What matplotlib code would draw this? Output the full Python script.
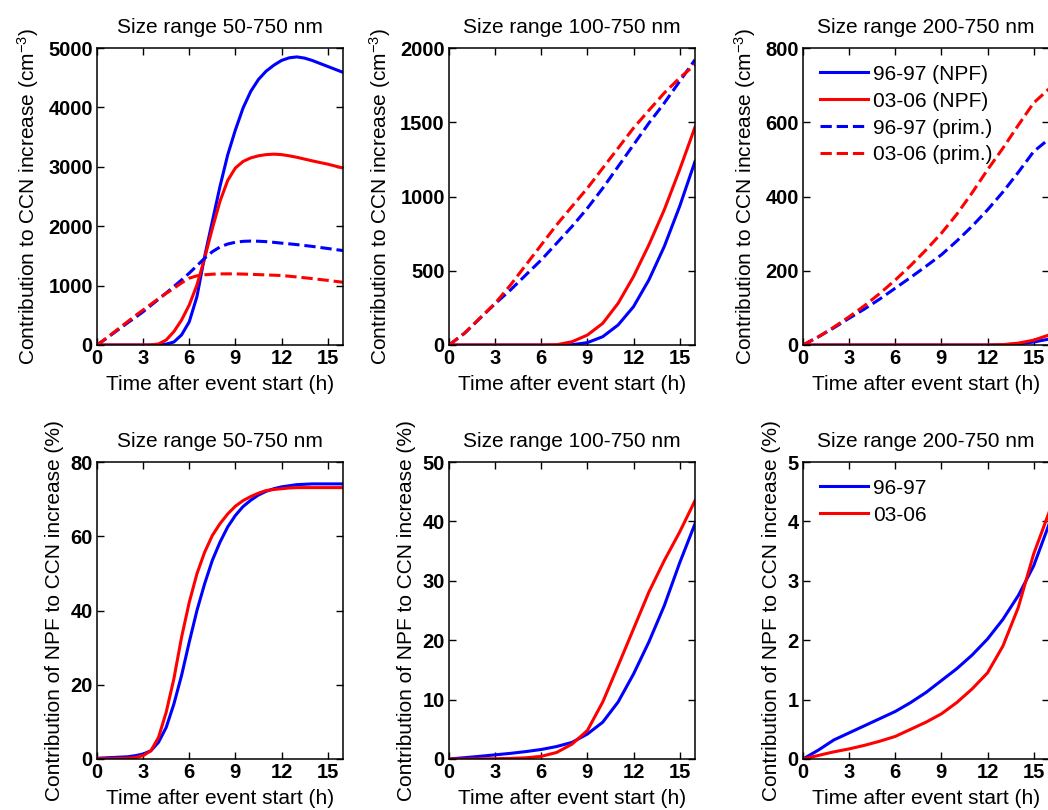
import matplotlib
matplotlib.use("Agg")
import matplotlib.pyplot as plt
import numpy as np

plt.rcParams['font.family'] = ['Liberation Sans', 'DejaVu Sans']
plt.rcParams['mathtext.default'] = 'regular'

hours = np.arange(0, 17)
hours_half = np.arange(0, 16.5, 0.5)

# CCN increase (cm^-3), size range 50-750 nm, half-hourly
ccn50_npf_9697 = [0, 0, 0, 0, 0, 0, 0, 0, 5, 15, 50, 170, 390, 815, 1490, 2080, 2670,
                  3200, 3620, 3990, 4270, 4470, 4610, 4710, 4790, 4835, 4850, 4830, 4790,
                  4740, 4690, 4640, 4590]
ccn50_npf_0306 = [0, 0, 0, 0, 0, 0, 0, 2, 17, 84, 225, 420, 674, 1010, 1460, 1960, 2420,
                  2770, 2980, 3090, 3150, 3185, 3205, 3213, 3205, 3185, 3160, 3130, 3100,
                  3072, 3045, 3012, 2980]
ccn50_prim_9697 = [0, 90, 185, 280, 375, 465, 560, 665, 770, 875, 985, 1095, 1210, 1335, 1460,
                   1570, 1650, 1700, 1730, 1745, 1750, 1747, 1740, 1728, 1715, 1703, 1690,
                   1675, 1660, 1642, 1625, 1607, 1590]
ccn50_prim_0306 = [0, 95, 195, 295, 395, 495, 590, 685, 780, 870, 955, 1045, 1125, 1165, 1182,
                   1192, 1197, 1198, 1197, 1194, 1190, 1185, 1180, 1175, 1170, 1158, 1145,
                   1132, 1118, 1103, 1088, 1072, 1056]

# size range 100-750 nm, hourly
ccn100_npf_9697 = [0, 0, 0, 0, 0, 0, 0, 0, 2, 16, 56, 135, 258, 438, 663, 933, 1236]
ccn100_npf_0306 = [0, 0, 0, 0, 0, 0, 0, 2, 22, 67, 146, 281, 461, 674, 910, 1180, 1467]
ccn100_prim_9697 = [0, 78, 178, 278, 371, 472, 573, 685, 798, 921, 1056, 1202, 1348, 1494, 1629, 1775, 1921]
ccn100_prim_0306 = [0, 79, 180, 281, 404, 539, 674, 809, 933, 1056, 1191, 1326, 1461, 1580, 1697, 1798, 1888]

# size range 200-750 nm, hourly
ccn200_npf_9697 = [0, 0, 0, 0, 0, 0, 0, 0, 0, 0, 0, 0, 0, 0.5, 3, 8, 16]
ccn200_npf_0306 = [0, 0, 0, 0, 0, 0, 0, 0, 0, 0, 0, 0, 0, 1, 5, 13, 27]
ccn200_prim_9697 = [0, 22, 46, 72, 97, 124, 153, 182, 212, 243, 280, 320, 364, 412, 465, 521, 555]
ccn200_prim_0306 = [0, 22, 48, 76, 106, 139, 175, 214, 256, 301, 352, 410, 472, 530, 592, 652, 690]

# NPF share of the CCN increase (%), 50-750 nm half-hourly
frac50_9697 = [0.2, 0.3, 0.4, 0.5, 0.6, 0.9, 1.35, 2.2, 4.5, 8.5, 14.8, 22.5, 31.5, 40, 47.2,
               53.5, 58.4, 62.5, 65.6, 68, 69.7, 71.1, 72.1, 72.8, 73.3, 73.6, 73.9, 74,
               74.1, 74.1, 74.1, 74.1, 74.1]
frac50_0306 = [0.1, 0.1, 0.1, 0.15, 0.2, 0.4, 0.9, 2.2, 5.8, 12.6, 21.6, 32.8, 42.2, 49.9,
               55.7, 60.2, 63.4, 66, 68.1, 69.6, 70.7, 71.6, 72.3, 72.6, 72.8, 73, 73.1,
               73.1, 73.1, 73.1, 73.1, 73.1, 73.1]
# 100-750 and 200-750 nm hourly
frac100_9697 = [0, 0.22, 0.45, 0.7, 0.95, 1.25, 1.6, 2.1, 2.8, 4.2, 6.2, 9.6, 14.3, 19.7, 25.8, 33, 39.6]
frac100_0306 = [0, 0, 0.02, 0.05, 0.1, 0.2, 0.45, 1.1, 2.5, 4.8, 9.6, 15.7, 21.9, 28.1, 33.4, 38.2, 43.5]
frac200_9697 = [0, 0.15, 0.32, 0.44, 0.56, 0.68, 0.8, 0.95, 1.12, 1.32, 1.52, 1.75, 2.02, 2.35, 2.75, 3.25, 3.95]
frac200_0306 = [0, 0.06, 0.12, 0.17, 0.23, 0.3, 0.38, 0.5, 0.62, 0.76, 0.95, 1.18, 1.45, 1.9, 2.55, 3.45, 4.15]

titles = ['Size range 50-750 nm', 'Size range 100-750 nm', 'Size range 200-750 nm']
xticks = [0, 3, 6, 9, 12, 15]

LW = 2.2
FS = 15
TFS = 14.5

fig = plt.figure(figsize=(10.48, 8.10), dpi=100)
W, H = 1048.0, 810.0
lefts = [97, 449, 803]
ax_w, ax_h = 246, 297
tops = [48, 462]


def make_ax(row, col):
    l = lefts[col] / W
    b = 1 - (tops[row] + ax_h) / H
    ax = fig.add_axes([l, b, ax_w / W, ax_h / H])
    ax.set_xlim(0, 16)
    ax.set_xticks(xticks)
    ax.tick_params(direction='in', top=True, right=True, length=5, width=1,
                   labelsize=TFS, pad=3)
    for s in ax.spines.values():
        s.set_linewidth(1.1)
    ax.set_title(titles[col], fontsize=FS, pad=11)
    ax.set_xlabel('Time after event start (h)', fontsize=FS, labelpad=5)
    return ax


def finish(ax, ymax, yt, ylabel):
    ax.set_ylim(0, ymax)
    ax.set_yticks(yt)
    for lab in ax.get_xticklabels() + ax.get_yticklabels():
        lab.set_fontweight('bold')
    ax.set_ylabel(ylabel, fontsize=FS, labelpad=5)


def add_legend(ax):
    ax.legend(loc='upper left', frameon=False, fontsize=FS, handlelength=2.3,
              handletextpad=0.25, labelspacing=0.38, borderaxespad=0.4)


top_sets = [
    (hours_half, ccn50_npf_9697, ccn50_npf_0306, ccn50_prim_9697, ccn50_prim_0306, 5000,
     [0, 1000, 2000, 3000, 4000, 5000]),
    (hours, ccn100_npf_9697, ccn100_npf_0306, ccn100_prim_9697, ccn100_prim_0306, 2000,
     [0, 500, 1000, 1500, 2000]),
    (hours, ccn200_npf_9697, ccn200_npf_0306, ccn200_prim_9697, ccn200_prim_0306, 800,
     [0, 200, 400, 600, 800]),
]

for col, (t, n1, n2, p1, p2, ymax, yt) in enumerate(top_sets):
    ax = make_ax(0, col)
    ax.plot(t, n1, color='b', lw=LW, label='96-97 (NPF)')
    ax.plot(t, n2, color='r', lw=LW, label='03-06 (NPF)')
    ax.plot(t, p1, color='b', lw=LW, ls='--', label='96-97 (prim.)')
    ax.plot(t, p2, color='r', lw=LW, ls='--', label='03-06 (prim.)')
    finish(ax, ymax, yt, 'Contribution to CCN increase (cm$^{-3}$)')
    if col == 2:
        add_legend(ax)

bottom_sets = [
    (hours_half, frac50_9697, frac50_0306, 80, [0, 20, 40, 60, 80]),
    (hours, frac100_9697, frac100_0306, 50, [0, 10, 20, 30, 40, 50]),
    (hours, frac200_9697, frac200_0306, 5, [0, 1, 2, 3, 4, 5]),
]

for col, (t, f1, f2, ymax, yt) in enumerate(bottom_sets):
    ax = make_ax(1, col)
    ax.plot(t, f1, color='b', lw=LW, label='96-97')
    ax.plot(t, f2, color='r', lw=LW, label='03-06')
    finish(ax, ymax, yt, 'Contribution of NPF to CCN increase (%)')
    if col == 2:
        add_legend(ax)

fig.savefig('out.png', dpi=100)
